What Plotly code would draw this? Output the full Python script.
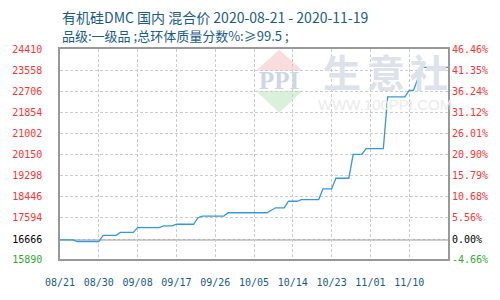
import plotly.graph_objects as go

# ---- data ----
dates = ["2020-08-21", "2020-08-24", "2020-08-25", "2020-08-30", "2020-08-31",
         "2020-09-03", "2020-09-04", "2020-09-07", "2020-09-08", "2020-09-13",
         "2020-09-14", "2020-09-16", "2020-09-17", "2020-09-21", "2020-09-22",
         "2020-09-23", "2020-09-28", "2020-09-29", "2020-10-08", "2020-10-10",
         "2020-10-12", "2020-10-13", "2020-10-15", "2020-10-16", "2020-10-20",
         "2020-10-21", "2020-10-23", "2020-10-24", "2020-10-27", "2020-10-28",
         "2020-10-30", "2020-10-31", "2020-11-04", "2020-11-05", "2020-11-09",
         "2020-11-10", "2020-11-11", "2020-11-13", "2020-11-19"]
prices = [16666.67, 16666.67, 16600, 16600, 16850,
          16850, 16966.67, 16966.67, 17166.67, 17166.67,
          17233.33, 17233.33, 17300, 17300, 17566.67,
          17633.33, 17633.33, 17766.67, 17766.67, 17966.67,
          17966.67, 18233.33, 18233.33, 18300, 18300,
          18733.33, 18733.33, 19166.67, 19166.67, 20133.33,
          20133.33, 20366.67, 20366.67, 22466.67, 22466.67,
          22733.33, 22733.33, 23666.67, 23666.67]

y_ticks = [15890, 16666, 17594, 18446, 19298, 20150, 21002, 21854, 22706, 23558, 24410]
pct_labels = ["-4.66%", "0.00%", "5.56%", "10.68%", "15.79%", "20.90%",
              "26.01%", "31.12%", "36.24%", "41.35%", "46.46%"]
x_ticks = ["2020-08-21", "2020-08-30", "2020-09-08", "2020-09-17", "2020-09-26",
           "2020-10-05", "2020-10-14", "2020-10-23", "2020-11-01", "2020-11-10"]
x_labels = ["08/21", "08/30", "09/08", "09/17", "09/26", "10/05", "10/14", "10/23", "11/01", "11/10"]
base_value = 16666
title_text = "有机硅DMC 国内 混合价 2020-08-21 - 2020-11-19"
subtitle_text = "品级:一级品 ;总环体质量分数%:≥99.5 ;"

RED, GREEN, BLACK = "#ff3333", "#33aa33", "#000000"
BLUE_TXT = "#1a5c8c"


def col(v):
    if v > base_value:
        return RED
    if v < base_value:
        return GREEN
    return BLACK


left_text = [f'<span style="color:{col(v)}">{v}</span>' for v in y_ticks]
right_text = [f'<span style="color:{col(v)}">{t}</span>' for v, t in zip(y_ticks, pct_labels)]

fig = go.Figure()
fig.add_trace(go.Scatter(x=dates, y=prices, mode="lines",
                         line=dict(color="#3399dd", width=1.3),
                         hoverinfo="skip", showlegend=False))
fig.add_trace(go.Scatter(x=[dates[0]], y=[prices[0]], yaxis="y2", mode="markers",
                         marker=dict(opacity=0), hoverinfo="skip", showlegend=False))

tickfont = dict(family="DejaVu Sans Mono", size=10)
yrange = [y_ticks[0], y_ticks[-1]]

fig.update_layout(
    width=500, height=300,
    margin=dict(l=50, r=50, t=49, b=31),
    paper_bgcolor="white", plot_bgcolor="white",
    xaxis=dict(type="date", range=[dates[0], dates[-1]],
               tickmode="array", tickvals=x_ticks, ticktext=x_labels,
               tickfont=dict(family="DejaVu Sans Mono", size=10, color=BLUE_TXT),
               showgrid=True, gridcolor="#cccccc", griddash="3px,2px", gridwidth=1,
               showline=True, linecolor="#999999", linewidth=1.5, mirror=True,
               ticks="", ticklabelstandoff=13, zeroline=False),
    yaxis=dict(range=yrange, tickmode="array", tickvals=y_ticks, ticktext=left_text,
               tickfont=tickfont,
               showgrid=True, gridcolor="#cccccc", griddash="3px,2px", gridwidth=1,
               showline=True, linecolor="#999999", linewidth=1.5, mirror=True,
               ticks="", ticklabelstandoff=14, zeroline=False),
    yaxis2=dict(range=yrange, overlaying="y", side="right", tickmode="array",
                tickvals=y_ticks, ticktext=right_text, tickfont=tickfont,
                showgrid=False, showline=False, ticks="", ticklabelstandoff=3,
                zeroline=False),
    shapes=[
        dict(type="line", xref="paper", x0=0, x1=1, yref="y", y0=base_value, y1=base_value,
             line=dict(color="#999999", width=1.2), layer="below"),
        dict(type="path", xref="paper", yref="paper",
             path="M 0.565 0.997 L 0.505 0.897 L 0.625 0.897 Z",
             fillcolor="#fadcdc", line=dict(width=0), layer="below"),
        dict(type="path", xref="paper", yref="paper",
             path="M 0.505 0.801 L 0.625 0.801 L 0.565 0.697 Z",
             fillcolor="#d9f0da", line=dict(width=0), layer="below"),
    ],
    annotations=[
        dict(text=title_text, xref="paper", yref="paper", x=0, y=1.1545,
             xanchor="left", yanchor="middle", showarrow=False,
             font=dict(family="Noto Sans CJK SC", size=14, color=BLUE_TXT)),
        dict(text=subtitle_text, xref="paper", yref="paper", x=0, y=1.064,
             xanchor="left", yanchor="middle", showarrow=False,
             font=dict(family="Noto Sans CJK SC", size=13, color=BLUE_TXT)),
        dict(text="<b>PPI</b>", xref="paper", yref="paper", x=0.565, y=0.849,
             xanchor="center", yanchor="middle", showarrow=False,
             font=dict(family="Liberation Serif", size=25, color="#cdd5e6")),
        dict(text="<b>生</b>", xref="paper", yref="paper", x=(341 - 50) / 400, y=(269.3 - 72) / 220,
             xanchor="center", yanchor="middle", showarrow=False,
             font=dict(family="Noto Sans CJK SC", size=38, color="#dde1ec")),
        dict(text="<b>意</b>", xref="paper", yref="paper", x=(386 - 50) / 400, y=(269.3 - 72) / 220,
             xanchor="center", yanchor="middle", showarrow=False,
             font=dict(family="Noto Sans CJK SC", size=38, color="#dde1ec")),
        dict(text="<b>社</b>", xref="paper", yref="paper", x=(430 - 50) / 400, y=(269.3 - 72) / 220,
             xanchor="center", yanchor="middle", showarrow=False,
             font=dict(family="Noto Sans CJK SC", size=38, color="#dde1ec")),
        dict(text="WWW.100PPI.COM", xref="paper", yref="paper", x=(385.5 - 50) / 400,
             y=(269.3 - 107) / 220, xanchor="center", yanchor="middle", showarrow=False,
             font=dict(family="Liberation Sans", size=15, color="#ebebeb")),
    ],
)

fig.write_html("out.html")
